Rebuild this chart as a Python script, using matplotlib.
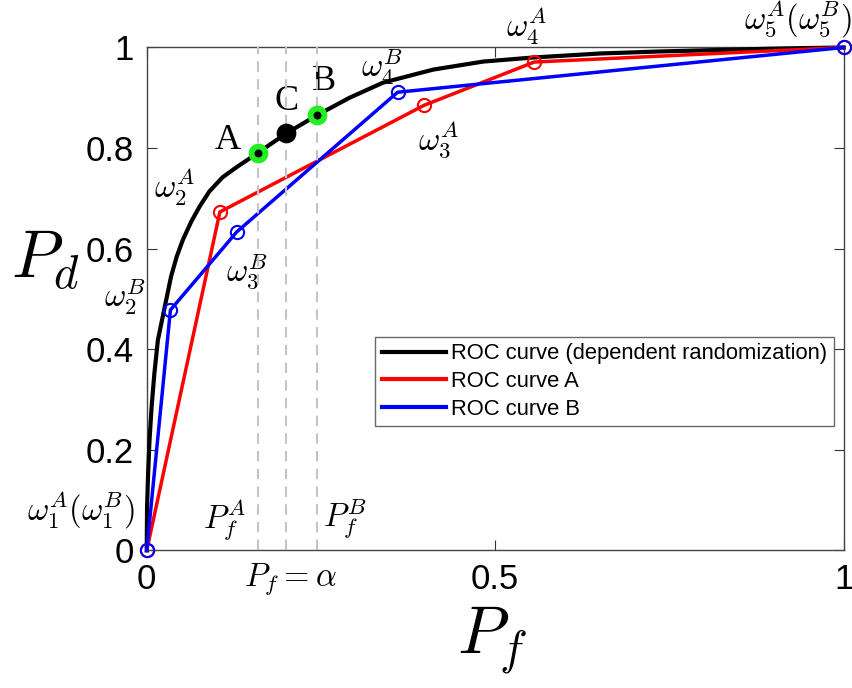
import numpy as np
import matplotlib
matplotlib.use("Agg")
import matplotlib.pyplot as plt
from matplotlib.lines import Line2D

plt.rcParams['font.family'] = ['Liberation Sans', 'DejaVu Sans']
plt.rcParams['mathtext.fontset'] = 'cm'

# ROC curve (dependent randomization)
roc_pf = [0.0, 0.0005, 0.002, 0.004, 0.007, 0.011, 0.016, 0.026, 0.035, 0.043,
          0.052, 0.064, 0.076, 0.090, 0.109, 0.129, 0.159, 0.2, 0.244, 0.291,
          0.339, 0.411, 0.483, 0.554, 0.65, 0.735, 0.82, 0.91, 1.0]
roc_pd = [0.0, 0.086, 0.153, 0.219, 0.285, 0.352, 0.418, 0.485, 0.545, 0.584,
          0.618, 0.654, 0.684, 0.714, 0.742, 0.762, 0.790, 0.829, 0.865, 0.90,
          0.93, 0.956, 0.972, 0.980, 0.988, 0.992, 0.995, 0.998, 1.0]

# ROC curve A
a_pf = [0.0, 0.105, 0.398, 0.556, 1.0]
a_pd = [0.0, 0.673, 0.885, 0.971, 1.0]

# ROC curve B
b_pf = [0.0, 0.034, 0.129, 0.36, 1.0]
b_pd = [0.0, 0.478, 0.633, 0.911, 1.0]

# operating points A, C, B and the vertical guides
pts_pf = [0.159, 0.2, 0.244]
pts_pd = [0.790, 0.829, 0.865]
pts_lbl = ['A', 'C', 'B']

fig = plt.figure(figsize=(8.53, 6.88), dpi=100)
ax = fig.add_axes([0.172, 0.2, 0.817, 0.731])

ax.plot(roc_pf, roc_pd, color='black', lw=3.0, zorder=3, clip_on=False)
ax.plot(a_pf, a_pd, color='red', lw=2.5, marker='o', ms=9.5, mfc='none', mew=1.5, zorder=3, clip_on=False)
ax.plot(b_pf, b_pd, color='blue', lw=2.5, marker='o', ms=9.5, mfc='none', mew=1.5, zorder=3, clip_on=False)

for x in pts_pf:
    ax.plot([x, x], [0, 1], color='#c4c4c4', lw=1.5, ls=(0, (5, 3.5)), zorder=4)

for x, y, c in zip(pts_pf, pts_pd, ['#22ee22', 'black', '#22ee22']):
    ax.plot(x, y, marker='o', ms=10, mfc='black', mec=c, mew=4.2, zorder=5)

lbl_xy = [(0.116, 0.815), (0.200, 0.893), (0.254, 0.932)]
for (x, y), s in zip(lbl_xy, pts_lbl):
    ax.text(x, y, s, fontsize=26, family='Liberation Serif', ha='center', va='center')

notes = [
    (0.040, 0.722, r'$\omega_2^A$'),
    (-0.031, 0.504, r'$\omega_2^B$'),
    (0.1435, 0.554, r'$\omega_3^B$'),
    (0.338, 0.962, r'$\omega_4^B$'),
    (0.419, 0.817, r'$\omega_3^A$'),
    (0.545, 1.042, r'$\omega_4^A$'),
    (0.934, 1.056, r'$\omega_5^A(\omega_5^B)$'),
    (-0.094, 0.080, r'$\omega_1^A(\omega_1^B)$'),
    (0.112, 0.062, r'$P_f^A$'),
    (0.285, 0.062, r'$P_f^B$'),
    (0.206, -0.058, r'$P_f = \alpha$'),
]
for x, y, s in notes:
    ax.text(x, y, s, fontsize=23.5, ha='center', va='center', clip_on=False)

ax.set_xlim(0, 1)
ax.set_ylim(0, 1)
ax.set_xticks([0, 0.5, 1])
ax.set_xticklabels(['0', '0.5', '1'])
ax.set_yticks([0, 0.2, 0.4, 0.6, 0.8, 1])
ax.set_yticklabels(['0', '0.2', '0.4', '0.6', '0.8', '1'])
ax.tick_params(direction='in', top=True, right=True, labelsize=25, length=7, color='#333333', pad=9)
for s in ax.spines.values():
    s.set_color('#444444')
    s.set_linewidth(1.0)

fig.text(0.053, 0.622, r'$P_d$', fontsize=48, ha='center', va='center')
fig.text(0.577, 0.07, r'$P_f$', fontsize=48, ha='center', va='center')

handles = [Line2D([], [], color='black', lw=3.0),
           Line2D([], [], color='red', lw=3.0),
           Line2D([], [], color='blue', lw=3.0)]
labels = ['ROC curve (dependent randomization)', 'ROC curve A', 'ROC curve B']
leg = ax.legend(handles, labels, loc='lower right', bbox_to_anchor=(0.986, 0.247), fontsize=15.8,
                frameon=True, fancybox=False, edgecolor='#444444', handlelength=2.9,
                handletextpad=0.25, borderpad=0.3, labelspacing=0.3, borderaxespad=0)
leg.get_frame().set_linewidth(1.0)

fig.savefig('out.png', dpi=100)
